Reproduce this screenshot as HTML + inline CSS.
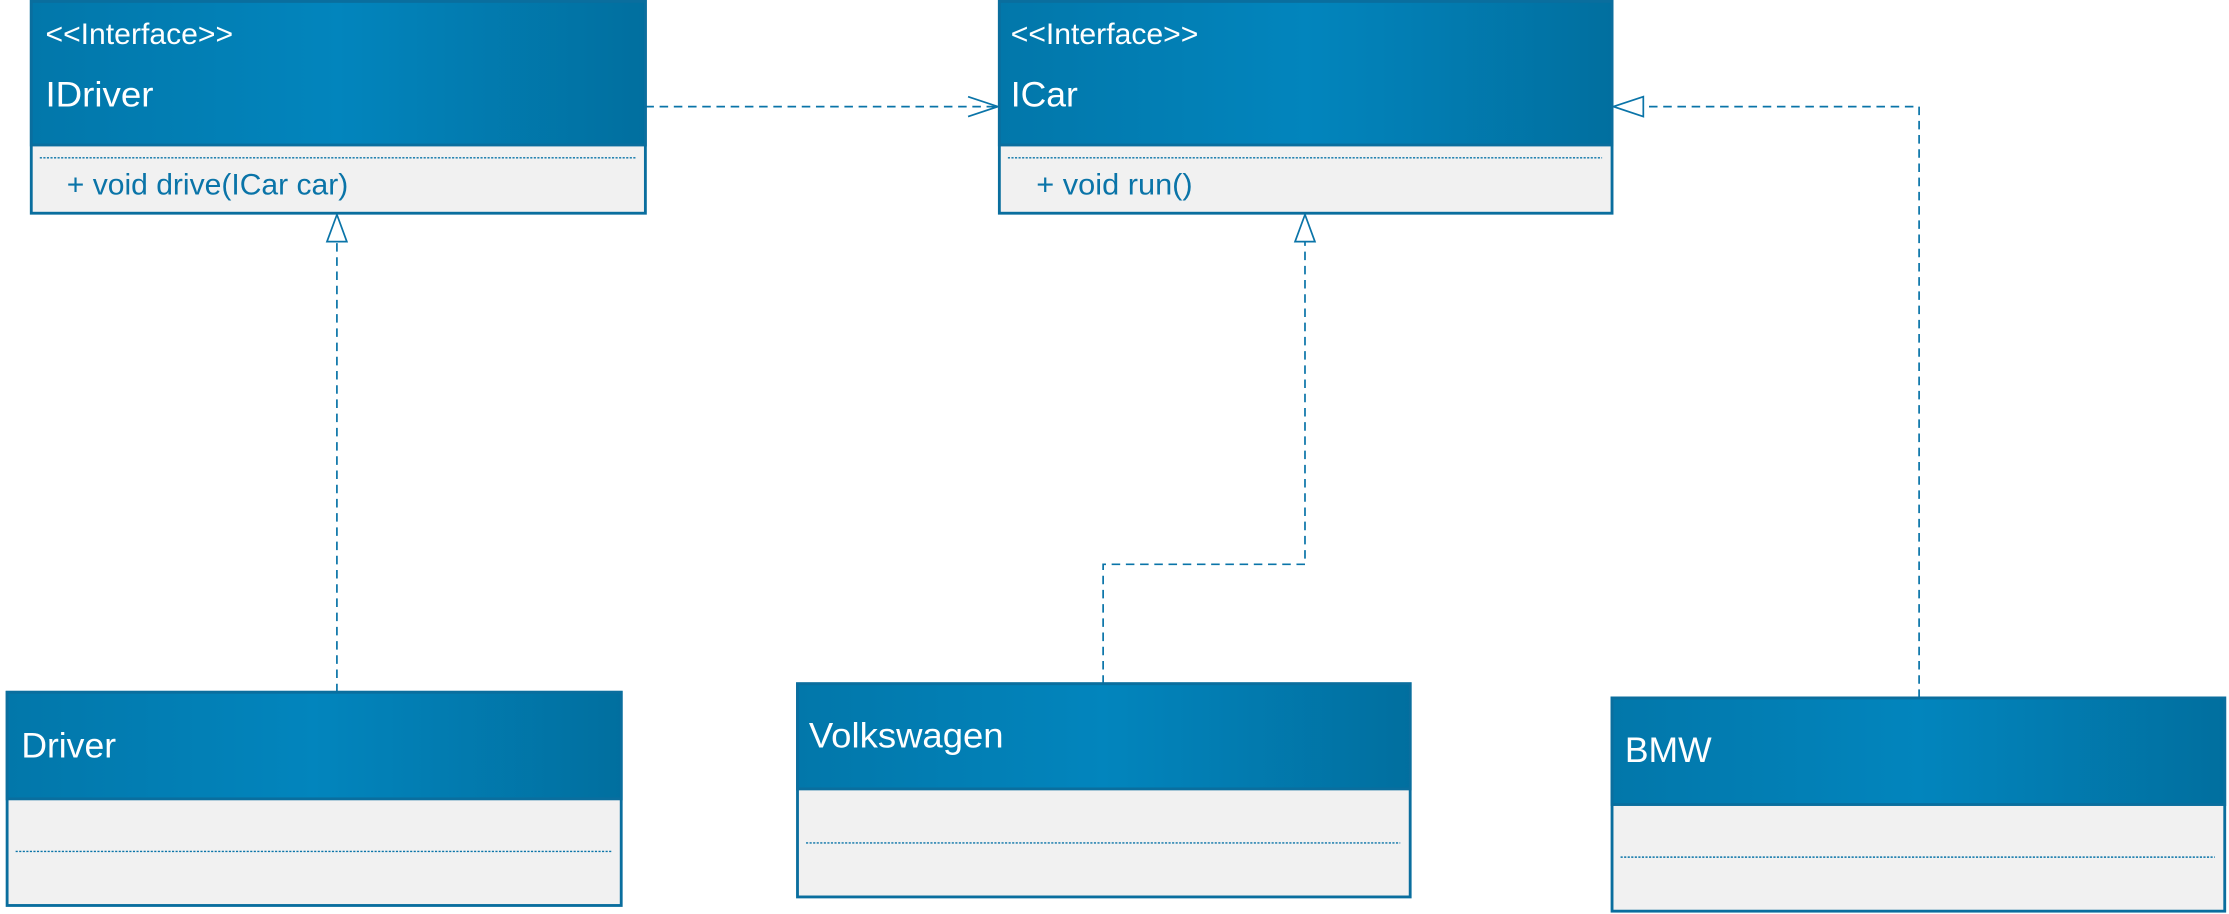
<!DOCTYPE html>
<html><head><meta charset="utf-8"><style>html,body{margin:0;padding:0;background:#fff}svg{display:block}</style></head>
<body>
<svg width="2229" height="914" viewBox="0 0 1568 643" preserveAspectRatio="none" xmlns="http://www.w3.org/2000/svg" font-family="Liberation Sans, sans-serif">
<defs>
<linearGradient id="g" x1="0" y1="0" x2="1" y2="0">
<stop offset="0" stop-color="#0277aa"/><stop offset="0.5" stop-color="#0285bd"/><stop offset="1" stop-color="#016f9f"/>
</linearGradient>
</defs>
<g stroke="#0a74a8" stroke-width="1.2" fill="none" stroke-dasharray="6,4">
<line x1="454" y1="75" x2="701" y2="75"/>
<line x1="237" y1="487" x2="237" y2="170"/>
<polyline points="776,481 776,397 918,397 918,170"/>
<polyline points="1350,491 1350,75 1156,75"/>
</g>
<g stroke="#0a74a8" stroke-width="1.2" fill="#fff">
<polyline points="681,68 702,75 681,82" fill="none"/>
<polygon points="237,151 230,170 244,170"/>
<polygon points="918,151 911,170 925,170"/>
<polygon points="1135,75 1156,68 1156,82"/>
</g>
<g stroke="#0a6e9e" stroke-width="2">
<rect x="22" y="1" width="432" height="149" fill="#f1f1f1"/><rect x="22" y="1" width="432" height="101" fill="url(#g)"/>
<rect x="703" y="1" width="431" height="149" fill="#f1f1f1"/><rect x="703" y="1" width="431" height="101" fill="url(#g)"/>
<rect x="5" y="487" width="432" height="150" fill="#f1f1f1"/><rect x="5" y="487" width="432" height="75" fill="url(#g)"/>
<rect x="561" y="481" width="431" height="150" fill="#f1f1f1"/><rect x="561" y="481" width="431" height="74" fill="url(#g)"/>
<rect x="1134" y="491" width="431" height="150" fill="#f1f1f1"/><rect x="1134" y="491" width="431" height="75" fill="url(#g)"/>
</g>
<g stroke="#0a74a8" stroke-width="1" stroke-dasharray="1.5,1">
<line x1="28" y1="111" x2="447" y2="111"/>
<line x1="709" y1="111" x2="1127" y2="111"/>
<line x1="11" y1="599" x2="430" y2="599"/>
<line x1="567" y1="593" x2="985" y2="593"/>
<line x1="1140" y1="603" x2="1558" y2="603"/>
</g>
<g fill="#fff">
<text x="32" y="31" font-size="21" textLength="132" lengthAdjust="spacingAndGlyphs">&lt;&lt;Interface&gt;&gt;</text>
<text x="32" y="75" font-size="25" textLength="76" lengthAdjust="spacingAndGlyphs">IDriver</text>
<text x="711" y="31" font-size="21" textLength="132" lengthAdjust="spacingAndGlyphs">&lt;&lt;Interface&gt;&gt;</text>
<text x="711" y="75" font-size="25">ICar</text>
<text x="15" y="533" font-size="25">Driver</text>
<text x="569" y="526" font-size="25" textLength="137" lengthAdjust="spacingAndGlyphs">Volkswagen</text>
<text x="1143" y="536" font-size="25">BMW</text>
</g>
<g fill="#0a74a8" font-size="21">
<text x="47" y="137" textLength="198" lengthAdjust="spacingAndGlyphs">+ void drive(ICar car)</text>
<text x="729" y="137" textLength="110" lengthAdjust="spacingAndGlyphs">+ void run()</text>
</g>
</svg>
</body></html>
